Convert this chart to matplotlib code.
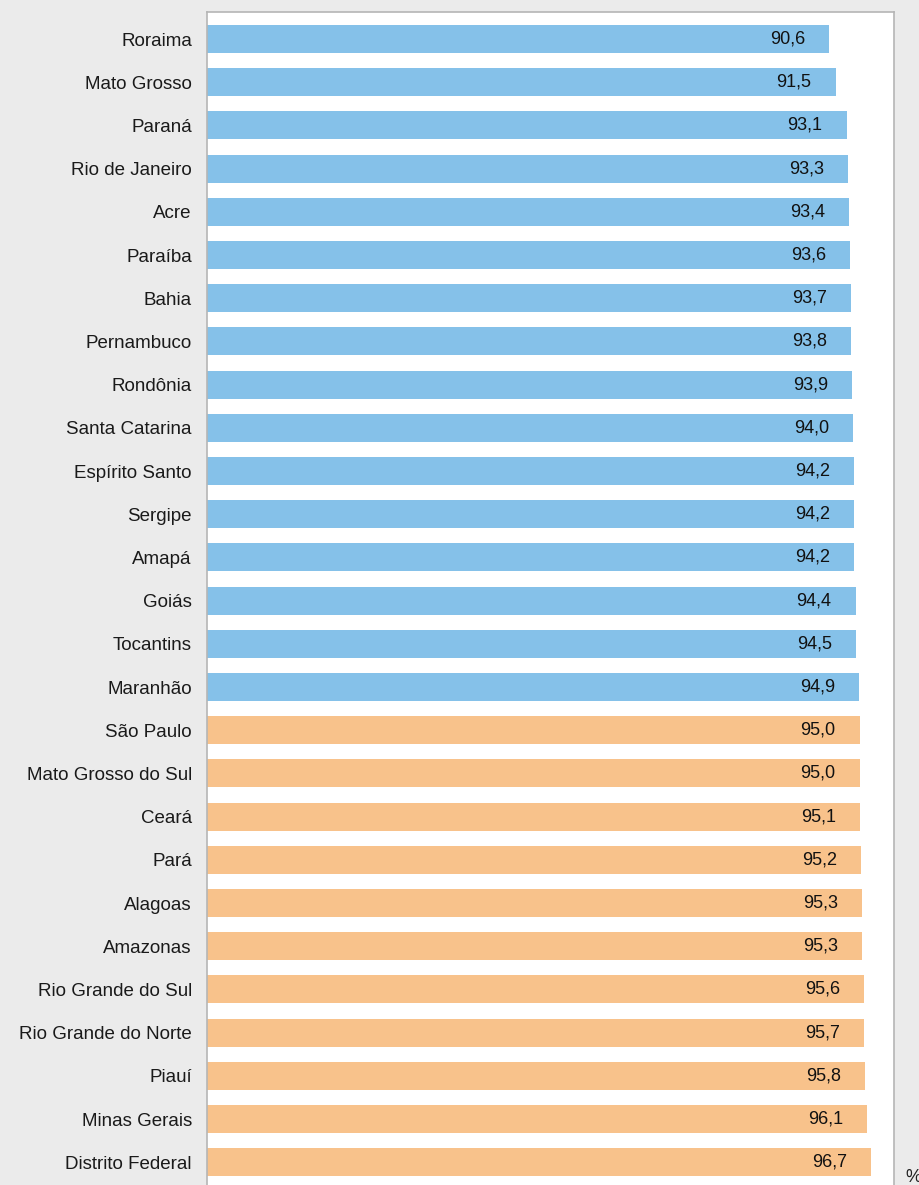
import matplotlib
matplotlib.use("Agg")
import matplotlib.pyplot as plt
from matplotlib.transforms import offset_copy

states = ["Roraima", "Mato Grosso", "Paraná", "Rio de Janeiro", "Acre", "Paraíba",
          "Bahia", "Pernambuco", "Rondônia", "Santa Catarina", "Espírito Santo",
          "Sergipe", "Amapá", "Goiás", "Tocantins", "Maranhão", "São Paulo",
          "Mato Grosso do Sul", "Ceará", "Pará", "Alagoas", "Amazonas",
          "Rio Grande do Sul", "Rio Grande do Norte", "Piauí", "Minas Gerais",
          "Distrito Federal"]
values = [90.6, 91.5, 93.1, 93.3, 93.4, 93.6, 93.7, 93.8, 93.9, 94.0, 94.2, 94.2,
          94.2, 94.4, 94.5, 94.9, 95.0, 95.0, 95.1, 95.2, 95.3, 95.3, 95.6, 95.7,
          95.8, 96.1, 96.7]
threshold = 95.0

plt.rcParams['font.family'] = ['Liberation Sans', 'DejaVu Sans']

W, H = 919, 1185
fig = plt.figure(figsize=(W / 100, H / 100), dpi=100)
fig.patch.set_facecolor('#ebebeb')

n = len(states)
pitch = 43.2
margin = 0.625
top_px = 12
left_px, right_px = 206.5, 894
bottom_px = top_px + pitch * (n - 1 + 2 * margin)
ax = fig.add_axes([left_px / W, (H - bottom_px) / H, (right_px - left_px) / W, (bottom_px - top_px) / H])
ax.set_facecolor('white')

colors = ['#85c1e9' if v < threshold else '#f8c28b' for v in values]
ypos = list(range(n))
ax.barh(ypos, values, height=0.65, color=colors, zorder=2)
ax.set_xlim(0, 100)
ax.set_ylim(n - 1 + margin, -margin)
ax.set_yticks(ypos)
ax.set_yticklabels(states, fontsize=13.5, color='#1a1a1a')
ax.tick_params(axis='y', length=0, pad=10.5)
ax.set_xticks([])
for s in ['left', 'top', 'right', 'bottom']:
    ax.spines[s].set_color('#b5b5b5')
    ax.spines[s].set_linewidth(1.2)

trans = offset_copy(ax.transData, fig=fig, x=-24, y=0, units='dots')
for y, v in zip(ypos, values):
    ax.text(v, y, f"{v:.1f}".replace('.', ','), transform=trans, ha='right',
            va='center', fontsize=13, color='#111111', zorder=3)

fig.text(905 / W, 1 - 1177 / H, '%', fontsize=13, ha='left', va='center', color='#222222')

fig.savefig('out.png', dpi=100, facecolor=fig.get_facecolor())
